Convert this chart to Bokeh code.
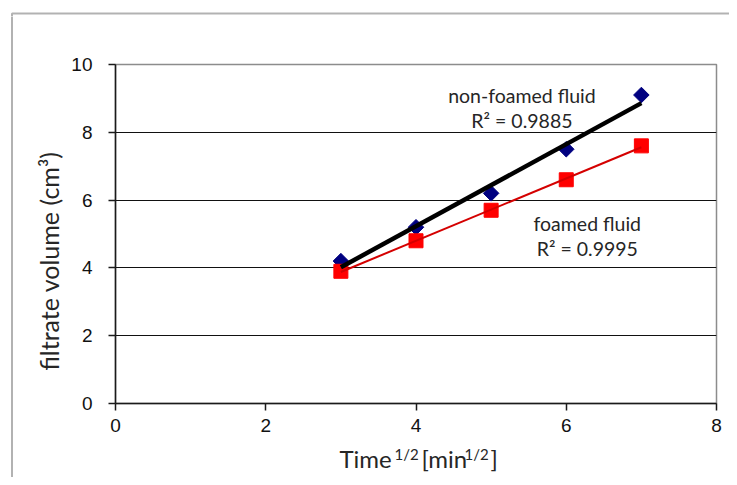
import numpy as np
from bokeh.plotting import figure
from bokeh.layouts import column, row
from bokeh.models import Range1d, FixedTicker, Label, BoxAnnotation, Plot
from bokeh.embed import file_html
from bokeh.resources import INLINE

# ---- data ----
time_sqrt = [3, 4, 5, 6, 7]
non_foamed = [4.2, 5.2, 6.2, 7.5, 9.1]
foamed = [3.9, 4.8, 5.7, 6.6, 7.6]
x_ticks = [0, 2, 4, 6, 8]
y_ticks = [0, 2, 4, 6, 8, 10]
r2_non_foamed = "0.9885"
r2_foamed = "0.9995"

TITLE_FONT = "Lato"
TEXT_COLOR = "#262626"
HAS_FRAME_ALIGN = "frame_align" in Plot.properties()


def no_align(fig):
    if HAS_FRAME_ALIGN:
        fig.frame_align = False
    return fig


def helper(width, height, x0, x1, y_top, y_bottom):
    """A blank figure whose frame covers the whole canvas; coordinates = page pixels."""
    f = figure(width=width, height=height, output_backend="svg", toolbar_location=None,
               x_range=Range1d(x0, x1), y_range=Range1d(y_bottom, y_top),
               x_axis_type=None, y_axis_type=None,
               min_border_left=0, min_border_right=0, min_border_top=0, min_border_bottom=0)
    f.grid.visible = False
    f.outline_line_color = None
    f.background_fill_color = "white"
    f.border_fill_color = "white"
    return no_align(f)


def lab(fig, x, y, text, size, align="left", angle=0.0):
    fig.add_layout(Label(x=x, y=y, text=text, text_font=TITLE_FONT, text_font_size=size,
                         text_align=align, text_baseline="alphabetic", angle=angle,
                         text_color=TEXT_COLOR))


# ---- main chart ----
p = figure(width=661, height=424, output_backend="svg", toolbar_location=None,
           x_range=Range1d(0, 8), y_range=Range1d(0, 10),
           min_border_left=47, min_border_right=13, min_border_top=48, min_border_bottom=37)
no_align(p)
p.background_fill_color = "white"
p.border_fill_color = "white"
p.outline_line_color = "#8c8c8c"
p.outline_line_width = 1.5

for ax in (p.xaxis, p.yaxis):
    ax.axis_line_color = "#1a1a1a"
    ax.axis_line_width = 1.5
    ax.major_tick_line_color = "#1a1a1a"
    ax.major_tick_line_width = 1.5
    ax.major_tick_out = 7
    ax.major_tick_in = 0
    ax.minor_tick_line_color = None
    ax.major_label_text_font = "Liberation Sans"
    ax.major_label_text_font_size = "19px"
    ax.major_label_text_color = "#111111"
p.xaxis.ticker = FixedTicker(ticks=x_ticks)
p.yaxis.ticker = FixedTicker(ticks=y_ticks)
p.xaxis.major_label_standoff = 8
p.yaxis.major_label_standoff = 16

p.xgrid.grid_line_color = None
p.ygrid.ticker = FixedTicker(ticks=[t for t in y_ticks if 0 < t < 10])
p.ygrid.grid_line_color = "#111111"
p.ygrid.grid_line_width = 1.2

p.scatter(time_sqrt, non_foamed, marker="square", angle=np.pi / 4, size=11,
          fill_color="#000080", line_color="#000080")
p.scatter(time_sqrt, foamed, marker="square", size=14, fill_color="#ff0000", line_color="#ff0000")

xs = np.array([time_sqrt[0], time_sqrt[-1]], dtype=float)
k1, b1 = np.polyfit(time_sqrt, non_foamed, 1)
k2, b2 = np.polyfit(time_sqrt, foamed, 1)
p.line(xs, k1 * xs + b1, line_color="black", line_width=4.5)
p.line(xs, k2 * xs + b2, line_color="#d40000", line_width=2)

lab(p, 5.41, 9.09, "non-foamed fluid", "19.5px", align="center")
lab(p, 5.41, 8.35, "R\u00b2 = " + r2_non_foamed, "19.5px", align="center")
lab(p, 6.28, 5.30, "foamed fluid", "19.5px", align="center")
lab(p, 6.28, 4.57, "R\u00b2 = " + r2_foamed, "19.5px", align="center")

# ---- top strip with the outer frame's top edge ----
top = helper(729, 16, 0, 729, 0, 16)
top.add_layout(BoxAnnotation(left=11.5, right=2000, top=13, bottom=2000, fill_alpha=0,
                             line_color="black", line_width=2))

# ---- left strip: y axis title + outer frame's left edge ----
left = helper(68, 461, 0, 68, 16, 477)
left.add_layout(BoxAnnotation(left=11.5, right=2000, top=-100, bottom=2000, fill_alpha=0,
                              line_color="black", line_width=2))
lab(left, 48.5, 370, "filtrate volume (cm\u00b3)", "25px", angle=np.pi / 2)

# ---- bottom strip: x axis title ----
bottom = helper(661, 37, 68, 729, 440, 477)
lab(bottom, 339, 457.8, "Time", "24px")
lab(bottom, 394, 453.9, "1/2", "15px")
lab(bottom, 421, 457.8, "[min", "24px")
lab(bottom, 464, 453.9, "1/2", "15px")
lab(bottom, 490, 457.8, "]", "24px")

layout = column(top, row(left, column(p, bottom, spacing=0), spacing=0), spacing=0)
open("out.html", "w").write(file_html(layout, INLINE))
